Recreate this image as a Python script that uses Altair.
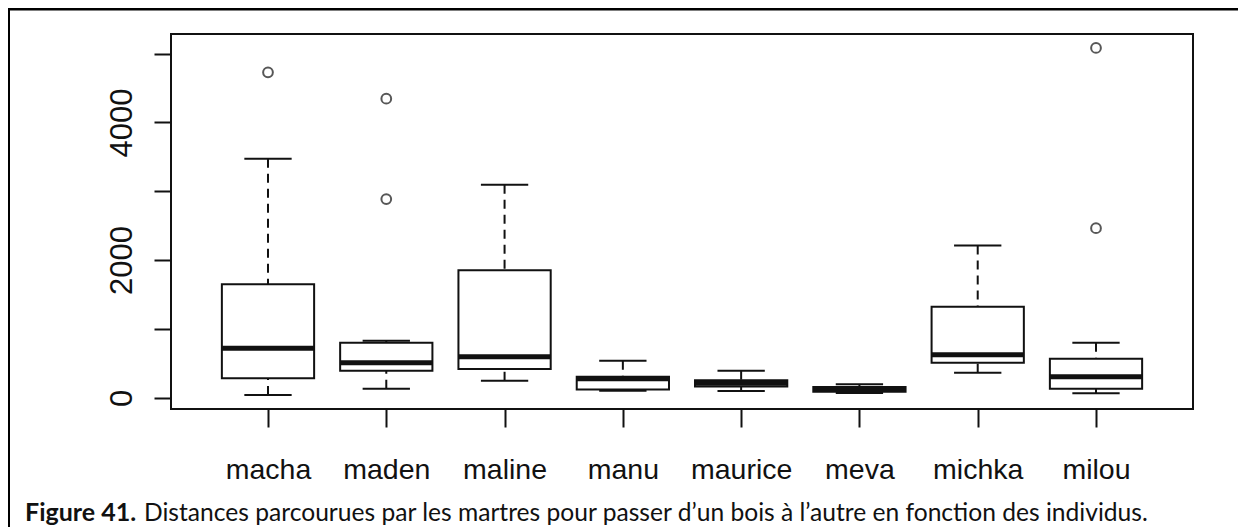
import altair as alt
import pandas as pd

# ---- data ----
names = ["macha", "maden", "maline", "manu", "maurice", "meva", "michka", "milou"]
lower = [40, 131, 247, 102, 97, 68, 364, 64]
q1 = [282, 393, 417, 122, 165, 87, 509, 131]
median = [718, 509, 597, 275, 210, 121, 625, 306]
q3 = [1649, 800, 1853, 305, 255, 156, 1324, 567]
upper = [3472, 830, 3094, 538, 393, 195, 2211, 800]
out_names = ["macha", "maden", "maden", "milou", "milou"]
out_values = [4727, 4345, 2886, 2464, 5082]
y_ticks = [0, 1000, 2000, 3000, 4000, 5000]
caption_bold = ["Figure 41."]
caption_text = ["Distances parcourues par les martres pour passer d\u2019un bois \u00e0 l\u2019autre en fonction des individus."]

positions = list(range(1, len(names) + 1))
df = pd.DataFrame({"name": names, "pos": positions, "lower": lower, "q1": q1,
                   "median": median, "q3": q3, "upper": upper})
odf = pd.DataFrame({"name": out_names,
                    "pos": [names.index(n) + 1 for n in out_names],
                    "value": out_values})

W, H = 1022, 375
xscale = alt.Scale(domain=[0.18, 8.82], nice=False, zero=False)
yscale = alt.Scale(domain=[-163, 5284], nice=False, zero=False)
INK = "#111111"

label_expr = f"{names}[datum.value - 1]"

xaxis = alt.Axis(values=positions, labelExpr=label_expr, title=None, grid=False,
                 domain=False, tickSize=18, tickWidth=2, tickColor=INK,
                 labelFont="Liberation Sans", labelFontSize=28.5, labelColor=INK,
                 labelPadding=51, labelBaseline="alphabetic", labelAngle=0,
                 labelOverlap=False, labelFlush=False)
yaxis = alt.Axis(values=y_ticks, format="d",
                 labelExpr="datum.value % 2000 === 0 ? datum.label : ''",
                 title=None, grid=False, domain=False, tickSize=17, tickWidth=2,
                 tickColor=INK, labelFont="Liberation Sans", labelFontSize=31,
                 labelColor=INK, labelAngle=270, labelAlign="center",
                 labelBaseline="alphabetic", labelPadding=23,
                 labelOverlap=False, labelFlush=False)


def X(field):
    return alt.X(field, scale=xscale, axis=xaxis)


def Y(field):
    return alt.Y(field, scale=yscale, axis=yaxis)


base = alt.Chart(df).transform_calculate(
    lo="datum.pos - 0.39", hi="datum.pos + 0.39",
    clo="datum.pos - 0.2", chi="datum.pos + 0.2")

whisk_up = base.mark_rule(color=INK, strokeWidth=2, strokeDash=[9, 6]).encode(
    x=X("pos:Q"), y=Y("upper:Q"), y2="q3:Q")
whisk_lo = base.mark_rule(color=INK, strokeWidth=2, strokeDash=[9, 6]).encode(
    x=X("pos:Q"), y=Y("lower:Q"), y2="q1:Q")
cap_up = base.mark_rule(color=INK, strokeWidth=2).encode(
    x=X("clo:Q"), x2="chi:Q", y=Y("upper:Q"))
cap_lo = base.mark_rule(color=INK, strokeWidth=2).encode(
    x=X("clo:Q"), x2="chi:Q", y=Y("lower:Q"))
box = base.mark_rect(fill="white", stroke=INK, strokeWidth=2).encode(
    x=X("lo:Q"), x2="hi:Q", y=Y("q1:Q"), y2="q3:Q")
med = base.mark_rule(color=INK, strokeWidth=5).encode(
    x=X("lo:Q"), x2="hi:Q", y=Y("median:Q"))
outl = alt.Chart(odf).mark_point(shape="circle", filled=False, size=95,
                                 strokeWidth=2, color=INK).encode(
    x=X("pos:Q"), y=Y("value:Q"))

frame = alt.Chart(pd.DataFrame({"k": [0]})).mark_rect(
    fill="white", fillOpacity=0, stroke="black", strokeWidth=3).encode(
    x=alt.value(-162.5), x2=alt.value(3000), y=alt.value(-25), y2=alt.value(2000))

cap1 = alt.Chart(pd.DataFrame({"t": caption_bold})).mark_text(
    font="Lato", fontSize=25, fontWeight="bold", align="left",
    baseline="alphabetic", color="#111111").encode(
    text="t:N", x=alt.value(25 - 171), y=alt.value(521 - 34))
cap2 = alt.Chart(pd.DataFrame({"t": caption_text})).mark_text(
    font="Lato", fontSize=24.6, align="left",
    baseline="alphabetic", color="#111111").encode(
    text="t:N", x=alt.value(144 - 171), y=alt.value(521 - 34))

chart = alt.layer(frame, whisk_up, whisk_lo, cap_up, cap_lo, box, med, outl,
                  cap1, cap2).properties(
    width=W, height=H,
    autosize=alt.AutoSizeParams(type="none"),
    padding={"left": 163, "top": 26, "right": 45, "bottom": 118},
    background="white",
).configure_view(stroke=INK, strokeWidth=2)

chart.save("out.html", embed_options={"renderer": "svg", "actions": False})
